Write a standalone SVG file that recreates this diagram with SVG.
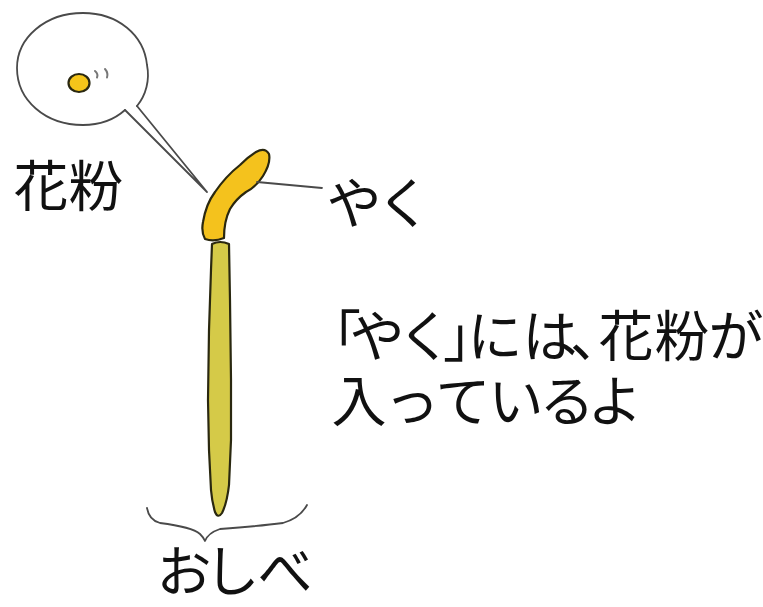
<svg xmlns="http://www.w3.org/2000/svg" width="763" height="607" viewBox="0 0 763 607">
  <style>
    .lbl { font-family: "Noto Sans CJK JP", "Noto Sans CJK SC", sans-serif; font-size: 55px; fill: #111; text-anchor: middle; }
    .ink { fill: none; stroke: #4a4a4a; stroke-width: 1.8; stroke-linejoin: round; stroke-linecap: round; }
    .outline { stroke: #2a2810; stroke-width: 2.2; stroke-linejoin: round; }
  </style>
  <rect width="763" height="607" fill="#ffffff"/>

  <!-- zoom bubble showing a single pollen grain -->
  <g id="bubble">
    <path class="ink" d="M137,106 C146,95 150,80 147,65 C144,35 118,13 83,13 C45,13 17,38 17,68 C17,100 45,125 83,125 C100,125 115,119 125,110"/>
    <path class="ink" d="M125,110 L207,192 L137,106"/>
    <ellipse cx="79" cy="83" rx="10.5" ry="9" fill="#f5c51a" class="outline"/>
    <path d="M95,71 Q98.5,74 97,77.5 M105,69 Q108.5,73 107,77.5" fill="none" stroke="#777" stroke-width="2" stroke-linecap="round"/>
  </g>

  <!-- filament -->
  <g id="filament">
    <path class="outline" fill="#d5ca48" d="M212,244 Q220,240 229,244 L230,300 L231,380 L231,440 L229,485 Q227,503 222,513 Q218,519 215,512 Q212,502 211,490 L209,450 L208,400 L209,330 L211,270 Z"/>
  </g>

  <!-- anther -->
  <g id="anther">
    <path class="outline" fill="#f4c21d" d="M256,152 Q265,147 269,154 Q271,163 263,176 Q256,187 246,192 Q236,199 230,209 Q224,221 224,238 Q214,242 205,239 Q201,232 203,222 Q206,204 215,192 Q226,176 240,165 Q248,157 256,152 Z"/>
  </g>

  <!-- leaders and brace -->
  <g id="connectors">
    <path class="ink" d="M257,182 L322,188"/>
    <path class="ink" d="M147,508 Q149,520 160,523 Q192,527 200,534 Q204,538 205,541 Q208,533 220,529 Q260,526 283,523 Q300,518 307,505"/>
  </g>

  <g id="label-pollen">
    <text class="lbl" x="41 96" y="206">花粉</text>
  </g>
  <g id="label-anther">
    <text class="lbl" x="354 404" y="223">やく</text>
  </g>
  <g id="label-stamen">
    <text class="lbl" x="184 232 285" y="591">おしべ</text>
  </g>
  <g id="note">
    <text class="lbl" x="333.5 377 425 470.5 495 550 597.5 626 682 736" y="356">「やく」には、花粉が</text>
    <text class="lbl" x="359 412 463 516 567 615" y="421">入っているよ</text>
  </g>
</svg>
